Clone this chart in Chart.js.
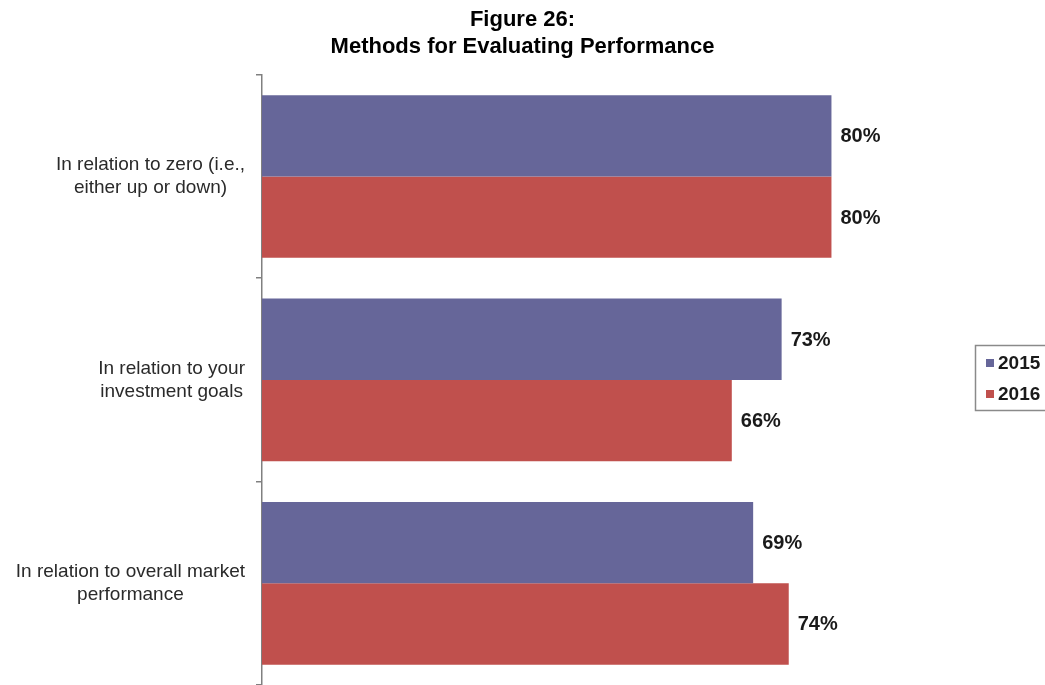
<!DOCTYPE html>
<html>
<head>
<meta charset="utf-8">
<title>Methods for Evaluating Performance</title>
<script src="https://cdn.jsdelivr.net/npm/chart.js@4/dist/chart.umd.min.js"></script>
<style>
  html, body { margin: 0; padding: 0; background: #fff; }
  #wrap { width: 1045px; height: 685px; position: relative; }
</style>
</head>
<body>
<div id="wrap"><canvas id="chart"></canvas></div>
<script>
// Survey answers, share of respondents per method
const methods = [
  ['In relation to zero (i.e.,', 'either up or down)'],
  ['In relation to your', 'investment goals'],
  ['In relation to overall market', 'performance']
];
const years = ['2015', '2016'];
const values2015 = [80, 73, 69];
const values2016 = [80, 66, 74];

const FONT = '"Liberation Sans", Arial, Helvetica, sans-serif';
const PURPLE = '#666699';
const RED = '#C0504D';

// category names, lines centred within each block, block right-aligned near the axis
const categoryLabels = {
  id: 'categoryLabels',
  afterDraw(chart) {
    const ctx = chart.ctx;
    const y = chart.scales.y;
    const right = y.right - 17;
    ctx.save();
    ctx.font = '19px ' + FONT;
    ctx.fillStyle = '#2a2a2a';
    ctx.textAlign = 'center';
    ctx.textBaseline = 'middle';
    chart.data.labels.forEach((lines, i) => {
      const cy = y.getPixelForValue(i);
      const widest = Math.max(...lines.map(l => ctx.measureText(l).width));
      const cx = right - widest / 2;
      const lh = 23;
      lines.forEach((line, j) => {
        ctx.fillText(line, cx, cy + (j - (lines.length - 1) / 2) * lh);
      });
    });
    ctx.restore();
  }
};

// percentage printed just past the end of every bar
const valueLabels = {
  id: 'valueLabels',
  afterDatasetsDraw(chart) {
    const ctx = chart.ctx;
    ctx.save();
    ctx.font = 'bold 20px ' + FONT;
    ctx.fillStyle = '#1a1a1a';
    ctx.textAlign = 'left';
    ctx.textBaseline = 'middle';
    chart.data.datasets.forEach((ds, di) => {
      chart.getDatasetMeta(di).data.forEach((bar, i) => {
        ctx.fillText(ds.data[i] + '%', bar.x + 9, bar.y + 1);
      });
    });
    ctx.restore();
  }
};

// boxed legend on the right
const boxLegend = {
  id: 'boxLegend',
  afterDraw(chart) {
    const ctx = chart.ctx;
    const x0 = 975, y0 = 345;
    ctx.save();
    ctx.strokeStyle = '#8a8a8a';
    ctx.lineWidth = 1.5;
    ctx.strokeRect(x0 + 0.5, y0 + 0.5, 90, 65);
    ctx.font = 'bold 19px ' + FONT;
    ctx.textAlign = 'left';
    ctx.textBaseline = 'middle';
    chart.data.datasets.forEach((ds, i) => {
      const cy = y0 + 18 + i * 31;
      ctx.fillStyle = ds.backgroundColor;
      ctx.fillRect(x0 + 11, cy - 4, 8, 8);
      ctx.fillStyle = '#1a1a1a';
      ctx.fillText(ds.label, x0 + 23, cy + 1);
    });
    ctx.restore();
  }
};

new Chart(document.getElementById('chart'), {
  type: 'bar',
  data: {
    labels: methods,
    datasets: [
      { label: years[0], data: values2015, backgroundColor: PURPLE },
      { label: years[1], data: values2016, backgroundColor: RED }
    ]
  },
  options: {
    indexAxis: 'y',
    responsive: true,
    maintainAspectRatio: false,
    animation: false,
    categoryPercentage: 0.8,
    barPercentage: 1.0,
    layout: { padding: 0 },
    plugins: {
      legend: { display: false },
      tooltip: { enabled: false },
      title: {
        display: true,
        text: ['Figure 26:', 'Methods for Evaluating Performance'],
        color: '#000',
        font: { family: FONT, size: 22, weight: 'bold', lineHeight: 1.2 },
        padding: { top: 7, bottom: 15 }
      }
    },
    scales: {
      x: {
        display: false,
        min: 0,
        max: 110
      },
      y: {
        afterFit(scale) { scale.width = 262; },
        ticks: { display: false },
        grid: {
          offset: true,
          drawOnChartArea: false,
          drawTicks: true,
          tickLength: 6,
          color: '#808080',
          lineWidth: 1.5
        },
        border: { display: true, color: '#808080', width: 1.5 }
      }
    }
  },
  plugins: [categoryLabels, valueLabels, boxLegend]
});
</script>
</body>
</html>
